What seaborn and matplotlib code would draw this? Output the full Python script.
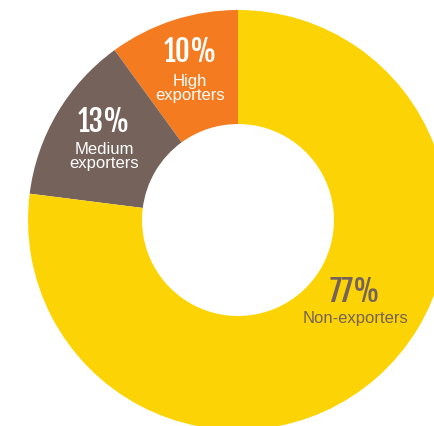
import numpy as np
import matplotlib
matplotlib.use("Agg")
import matplotlib.pyplot as plt
import seaborn as sns

categories = ["High\nexporters", "Medium\nexporters", "Non-exporters"]
shares = [10, 13, 77]
pct_labels = ["10%", "13%", "77%"]
colors = ["#F47B20", "#75625A", "#FCD405"]
text_colors = ["white", "white", "#75625A"]

sns.set_theme(style="white")
plt.rcParams["font.family"] = ["Liberation Sans", "DejaVu Sans"]

fig = plt.figure(figsize=(4.34, 4.26), dpi=100)
ax = fig.add_axes([0, 0, 1, 1])
R = 210.0  # pixels for radius 1
cx, cy = 238.0, 220.0
wedges, _ = ax.pie(shares, colors=colors, startangle=90, counterclock=True,
                   radius=1.0, wedgeprops=dict(width=0.543, linewidth=0))
ax.set_xlim(-cx / R, (434 - cx) / R)
ax.set_ylim((cy - 426) / R, cy / R)
ax.set_aspect("auto")
ax.axis("off")

anchors = []
for w in wedges[:2]:
    mid = np.deg2rad((w.theta1 + w.theta2) / 2)
    anchors.append((0.74 * np.cos(mid), 0.74 * np.sin(mid)))
anchors.append((117 / R, -83 / R))
pct_off = [20, 19, 11]
lab_off = [-16, -15.5, -15]
for (x, y), p, lab, tc, po, lo in zip(anchors, pct_labels, categories, text_colors, pct_off, lab_off):
    ax.text(x, y + po / R, p, ha="center", va="center", fontsize=21,
            family=["Fjalla One", "Anton", "DejaVu Sans"], color=tc)
    ax.text(x, y + lo / R, lab, ha="center", va="center", fontsize=12,
            color=tc, linespacing=0.95)

fig.savefig("out.png", dpi=100)
